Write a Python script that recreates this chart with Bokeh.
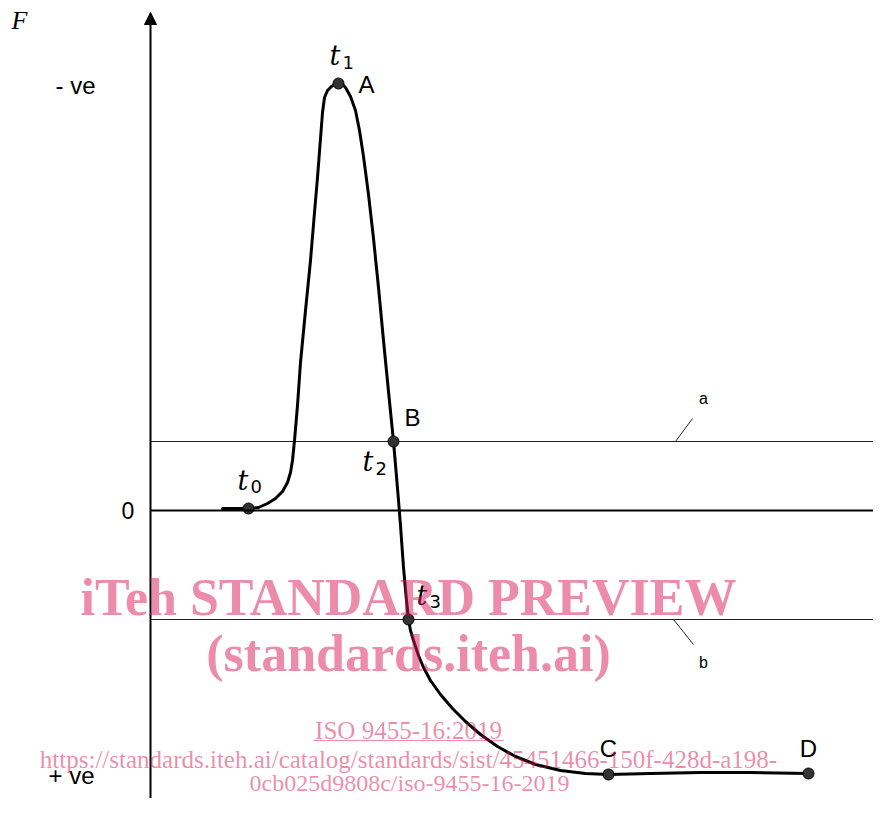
from bokeh.plotting import figure
from bokeh.models import Range1d, Arrow, NormalHead, Label
from bokeh.embed import file_html
from bokeh.resources import INLINE

# ---- data (time position, force value; -ve force plotted upward) ----
curve_t = [222, 235, 248, 258, 267, 275, 282, 287, 290, 292, 294, 297, 300, 305, 310,
           314, 317, 320, 322, 324, 327, 331, 334, 338, 342, 345, 350, 355, 359, 363,
           368, 373, 378, 383, 388, 393, 396, 398, 400, 403, 406, 408, 410, 413, 418, 423,
           430, 440, 452, 465, 480, 497, 515, 535, 560, 585, 608, 650, 700, 750, 808]
curve_F = [2, 2, 2, 3, 7, 12, 19, 28, 38, 50, 70, 105, 148, 200, 250,
           298, 333, 372, 398, 413, 420, 424, 426, 427, 426, 423, 414, 400, 380, 354,
           316, 272, 223, 170, 119, 69, 34, 10, -15, -57, -90, -109, -120, -130, -145, -157,
           -170, -184, -198, -211, -224, -236, -246, -254, -260, -263, -264, -263, -262, -262, -263]

point_names = ["t0", "A", "B", "t3", "C", "D"]
point_t = [248, 338, 393, 408, 608, 808]
point_F = [2, 427, 69, -109, -264, -263]

level_a = 69     # threshold line a
level_b = -109   # threshold line b

y_tick_labels = ["- ve", "0", "+ ve"]
y_tick_F = [425, 0, -265]

watermark_lines = ["iTeh STANDARD PREVIEW", "(standards.iteh.ai)", "ISO 9455-16:2019",
                   "https://standards.iteh.ai/catalog/standards/sist/45451466-150f-428d-a198-",
                   "0cb025d9808c/iso-9455-16-2019"]

# ---- figure ----
p = figure(width=873, height=798, x_range=Range1d(0, 873), y_range=Range1d(-288, 510),
           output_backend="svg", toolbar_location=None,
           x_axis_location=None, y_axis_location=None, min_border=0)
p.min_border_left = p.min_border_right = p.min_border_top = p.min_border_bottom = 0
p.xgrid.visible = False
p.ygrid.visible = False
p.outline_line_color = None
p.background_fill_color = "white"

x0 = 150
# axes with arrows
p.add_layout(Arrow(end=NormalHead(size=12, fill_color="black", line_color="black"),
                   x_start=x0, y_start=-320, x_end=x0, y_end=498,
                   line_width=2, line_color="black"))
p.add_layout(Arrow(end=NormalHead(size=12, fill_color="black", line_color="black"),
                   x_start=x0, y_start=0, x_end=893, y_end=0,
                   line_width=2, line_color="black"))

# threshold lines
p.segment(x0=[x0, x0], y0=[level_a, level_b], x1=[881, 881], y1=[level_a, level_b],
          line_color="#222222", line_width=1.2)
# leaders
p.segment(x0=[675, 673], y0=[level_a, level_b], x1=[692, 693], y1=[level_a + 23, level_b - 25],
          line_color="#222222", line_width=1)

# curve
p.line(curve_t, curve_F, line_color="black", line_width=3, line_join="round", line_cap="round")
p.scatter(point_t, point_F, size=11, fill_color="#333333", line_color="black", line_width=1)

sans = "Liberation Sans"
serif = "Liberation Serif"

def lab(text, x, y, size, font=sans, style="normal", align="left", baseline="middle", color="black", alpha=1.0):
    p.add_layout(Label(x=x, y=y, text=text, text_font=font, text_font_size=f"{size}px",
                       text_font_style=style, text_align=align, text_baseline=baseline,
                       text_color=color, text_alpha=alpha))

# axis labels
lab("F", 11, 510 - 20, 26, font=serif, style="italic")
lab(y_tick_labels[0], 55, y_tick_F[0], 24)
lab(y_tick_labels[1], 121, y_tick_F[1], 23)
lab(y_tick_labels[2], 48, y_tick_F[2], 24)

# point labels
lab("A", 358, 426, 24)
lab("B", 404, 93, 24)
lab("C", 608, -238, 24, align="center")
lab("D", 808, -238, 24, align="center")
lab("a", 703, 112, 16, align="center")
lab("b", 703, -152, 16, align="center")

# time labels t with subscripts: (subscript, x of t, centre y of t, centre y of subscript)
t_labels = [("1", 329, 55, 62), ("0", 237, 480, 486), ("2", 362, 461, 468), ("3", 416, 595, 601)]
for sub, tx, ty, sy in t_labels:
    lab("t", tx, 510 - ty, 27, font="DejaVu Serif", style="italic")
    lab(sub, tx + 13, 510 - sy, 18, font="DejaVu Sans")

# watermark
wm = "#d91955"
a = 0.5
lab(watermark_lines[0], 408, 510 - 597, 52, font=serif, style="bold", align="center", color=wm, alpha=a)
lab(watermark_lines[1], 408, 510 - 653, 52, font=serif, style="bold", align="center", color=wm, alpha=a)
lab(watermark_lines[2], 408, 510 - 730, 25, font=serif, align="center", color=wm, alpha=a)
p.segment(x0=[313], y0=[510 - 740], x1=[503], y1=[510 - 740], line_color=wm, line_alpha=a, line_width=1.2)
lab(watermark_lines[3], 408, 510 - 759, 25, font=serif, align="center", color=wm, alpha=a)
lab(watermark_lines[4], 409, 510 - 782, 24, font=serif, align="center", color=wm, alpha=a)

open("out.html", "w").write(file_html(p, INLINE))
